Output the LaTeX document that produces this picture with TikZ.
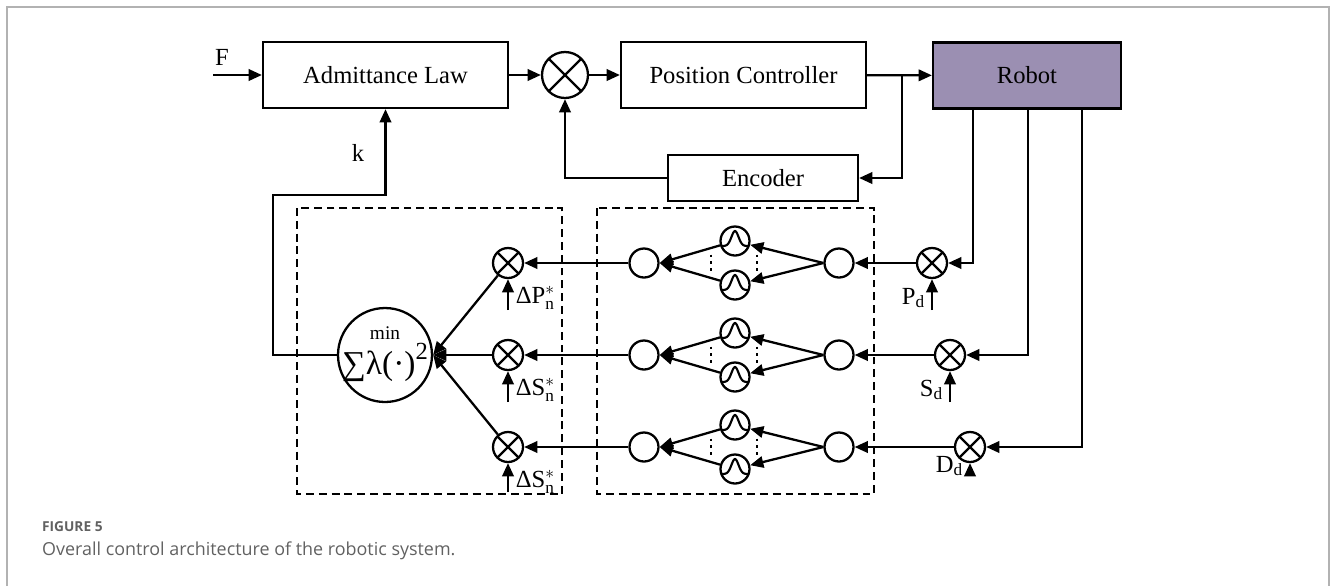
\documentclass[tikz,border=0pt]{standalone}
\usepackage{fontspec}
\usepackage{amsmath}
\setmainfont{Liberation Serif}
\newfontfamily\capfont{Open Sans}
\usetikzlibrary{arrows.meta}
\definecolor{RobotFill}{RGB}{155,143,178}
\colorlet{FrameGray}{black!30}
\colorlet{CapGray}{black!62}
\tikzset{
    block/.style={draw, inner sep=0pt, minimum height=1.32cm, font=\fontsize{14}{16}\selectfont},
    lab/.style={inner sep=1pt, font=\fontsize{14}{16}\selectfont},
    neuron/.style={circle, draw, inner sep=0pt, minimum size=0.58cm},
    mult/.style={circle, draw, inner sep=0pt, minimum size=0.6cm, path picture={
        \draw[line width=1.3pt] (path picture bounding box.north west) -- (path picture bounding box.south east)
            (path picture bounding box.south west) -- (path picture bounding box.north east);
    }},
    gauss/.style={neuron, path picture={
        \draw[line width=1.2pt, shift={(path picture bounding box.center)}]
            plot[domain=-15:15, samples=31, smooth] (\x, {5-15*exp(-\x*\x/25)});
    }},
    boxdash/.style={line width=1.2pt, dash pattern=on 4.5pt off 2.8pt},
    dots/.style={line width=1.4pt, dash pattern=on 1.4pt off 2.5pt},
}

\begin{document}
\begin{tikzpicture}[x=0.02cm, y=-0.02cm, line width=1.3pt, >={Triangle[length=7.5pt,width=6.5pt]}]

    \useasboundingbox (0,0) rectangle (1330,586);
    \draw[FrameGray, line width=0.9pt] (7,586) -- (7,7) -- (1329,7) -- (1329,586);

    % position loop
    \coordinate (Fin) at (213,75);
    \node[block, minimum width=4.9cm] (adm) at (385.5,75) {Admittance Law};
    \node[mult, minimum size=0.92cm] (sum) at (565,75) {};
    \node[block, minimum width=4.9cm] (pc) at (743.5,75) {Position Controller};
    \node[block, fill=RobotFill, minimum width=3.76cm] (robot) at (1027,75.5) {Robot};
    \node[block, minimum width=3.8cm, minimum height=0.92cm] (enc) at (763,178) {Encoder};
    \coordinate (split) at (902,75);

    \node[lab] (Flab) at (222,57) {F};
    \node[lab] (klab) at (358,153) {k};

    \draw[->] (Fin) -- (adm);
    \draw[->] (adm) -- (sum);
    \draw[->] (sum) -- (pc);
    \draw[->] (pc) -- (robot);
    \draw[->] (split) |- (enc);
    \draw[->] (enc) -| (sum);

    % optimisation block
    \draw[boxdash] (297,208) rectangle (562,494);
    \draw[boxdash] (597,208) rectangle (874,494);

    \node[neuron, minimum size=1.88cm] (minc) at (385,355) {};
    \node[inner sep=0pt, font=\fontsize{11}{12}\selectfont] (minlab) at (385,333) {min};
    \node[inner sep=0pt, font=\fontsize{19}{22}\selectfont] (sumlab) at (385,362) {∑λ(·)\raisebox{0.45em}{\fontsize{14}{14}\selectfont 2}};
    \coordinate (kbend) at (273,195);
    \draw[->] (minc) -| (kbend) -| (adm);

    \foreach \i/\y/\sx/\tap/\rl/\rly/\rin/\ll/\lin in
        {1/263/932/973/P/298/310/P/310, 2/355/950/1028/S/390/402/S/402, 3/447/970/1082/D/466/474/S/492} {
        \node[mult] (rs\i) at (\sx,\y) {};
        \node[neuron] (nr\i) at (839,\y) {};
        \node[gauss] (gu\i) at (735,\y-22) {};
        \node[gauss] (gd\i) at (735,\y+22) {};
        \node[neuron] (nl\i) at (644,\y) {};
        \node[mult] (ls\i) at (508,\y) {};
        \coordinate (tap\i) at (\tap,108);
        \coordinate (rin\i) at (\sx,\rin);
        \coordinate (lin\i) at (508,\lin);
        \node[lab, anchor=east] (rlab\i) at (\sx-4,\rly) {\rl$_{\mathrm{d}}$};
        \node[lab, anchor=west] (llab\i) at (513,\y+35) {Δ\ll$_{\mathrm{n}}^{*}$};

        \draw[->] (tap\i) |- (rs\i);
        \draw[->] (rin\i) -- (rs\i);
        \draw[->] (rs\i) -- (nr\i);
        \draw[->] (nr\i.west) -- (gu\i);
        \draw[->] (nr\i.west) -- (gd\i);
        \draw[->] (gu\i) -- (nl\i.east);
        \draw[->] (gd\i) -- (nl\i.east);
        \draw[->] (nl\i) -- (ls\i);
        \draw[->] (lin\i) -- (ls\i);
        \draw[->] (ls\i) -- (minc.east);
        \draw[dots] (711,\y-8.5) -- (711,\y+8.5);
        \draw[dots] (757,\y-8.5) -- (757,\y+8.5);
    }

    % caption
    \node[anchor=west, inner sep=0pt, text=CapGray, font=\capfont\bfseries\fontsize{7.8}{9}\selectfont] (figno) at (41,527) {FIGURE 5};
    \node[anchor=west, inner sep=0pt, text=CapGray, font=\capfont\fontsize{10.2}{12}\selectfont] (figcap) at (41,551) {Overall control architecture of the robotic system.};

\end{tikzpicture}
\end{document}
